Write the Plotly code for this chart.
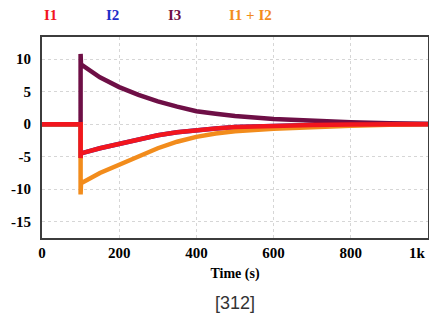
import plotly.graph_objects as go

# ---- data ----
time = [0, 100, 100, 101, 150, 200, 250, 300, 350, 400, 450, 500, 600, 700, 800, 900, 1000]
i1 = [0, 0, -5.2, -4.5, -3.7, -3.0, -2.3, -1.7, -1.25, -0.9, -0.65, -0.45, -0.25, -0.12, -0.05, 0, 0]
i2 = list(i1)  # hidden beneath I1 in the reference
i3 = [0, 0, 10.8, 9.2, 7.2, 5.7, 4.5, 3.5, 2.7, 2.0, 1.6, 1.25, 0.8, 0.5, 0.3, 0.15, 0.05]
i12 = [0, 0, -10.8, -9.1, -7.5, -6.2, -4.9, -3.7, -2.7, -1.95, -1.45, -1.1, -0.72, -0.45, -0.25, -0.1, 0]

series_names = ["I1", "I2", "I3", "I1 + I2"]
series_colors = ["#f2161e", "#1c2ec8", "#6e0f46", "#f28c1c"]
x_tickvals = [0, 200, 400, 600, 800, 1000]
x_ticktext = ["0", "200", "400", "600", "800", "1k"]
y_tickvals = [-15, -10, -5, 0, 5, 10]

fig = go.Figure()
data = {"I1": i1, "I2": i2, "I3": i3, "I1 + I2": i12}
color = dict(zip(series_names, series_colors))
for name in ["I2", "I3", "I1 + I2", "I1"]:
    fig.add_trace(go.Scatter(x=time, y=data[name], mode="lines", name=name,
                             line=dict(color=color[name], width=4.5),
                             showlegend=False, hoverinfo="skip"))

serif = "Liberation Serif, Times New Roman, serif"
legend_x = [0.0, 0.16, 0.32, 0.48]
for name, lx in zip(series_names, legend_x):
    fig.add_annotation(text="<b>%s</b>" % name, xref="paper", yref="paper",
                       x=lx, y=1.11, xanchor="left", yanchor="middle", showarrow=False,
                       font=dict(family=serif, size=15, color=color[name]))

fig.add_annotation(text="[312]", xref="paper", yref="paper", x=0.5, y=-0.323,
                   xanchor="center", yanchor="middle", showarrow=False,
                   font=dict(family="Liberation Sans, Arial, sans-serif", size=18, color="#333333"))

tick_font = dict(family=serif, size=15, color="black")
# the last x label sits flush with the right edge, as in the reference
shown_text = ["<b>%s</b>" % t for t in x_ticktext[:-1]] + [""]
fig.add_annotation(text="<b>%s</b>" % x_ticktext[-1], xref="x", yref="paper",
                   x=x_tickvals[-1], y=-0.075, xanchor="right", yanchor="middle",
                   showarrow=False, font=tick_font)

axis_common = dict(showline=True, linecolor="#3c3c3c", linewidth=2, mirror=True,
                   showgrid=True, gridcolor="#d6d6d6", griddash="dot", gridwidth=1,
                   zeroline=False, ticks="", automargin=False,
                   tickfont=tick_font)

fig.update_xaxes(range=[0, 1000], tickvals=x_tickvals, ticktext=shown_text,
                 title=dict(text="<b>Time (s)</b>", font=dict(family=serif, size=14, color="black"),
                            standoff=8),
                 **axis_common)
fig.update_yaxes(range=[-17.5, 13.4], tickvals=y_tickvals,
                 ticktext=["<b>%d</b>" % v for v in y_tickvals],
                 ticklabelstandoff=6, **axis_common)

fig.update_layout(width=429, height=334, margin=dict(l=42, r=1, t=37, b=96),
                  plot_bgcolor="white", paper_bgcolor="white")

fig.write_html("out.html", config={"displayModeBar": False},
               post_script="document.body.style.margin='0';document.body.style.padding='0';")
